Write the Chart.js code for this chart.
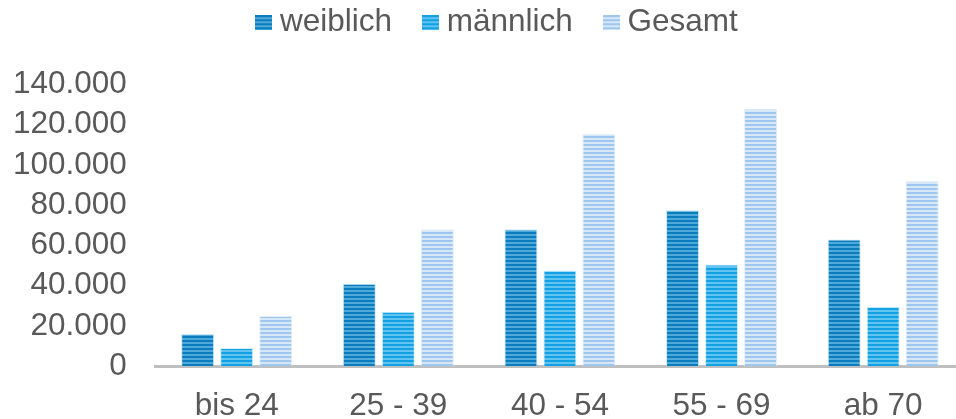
<!DOCTYPE html>
<html>
<head>
<meta charset="utf-8">
<script src="https://cdn.jsdelivr.net/npm/chart.js@4.4.1/dist/chart.umd.min.js"></script>
<style>
  html, body { margin: 0; padding: 0; background: #fff; overflow: hidden; }
  #wrap { width: 964px; height: 419px; }
</style>
</head>
<body>
<div id="wrap"><canvas id="ageChart" width="964" height="419"></canvas></div>
<script>
var categories = ['bis 24', '25 - 39', '40 - 54', '55 - 69', 'ab 70'];
var weiblich = [16000, 41000, 68000, 77500, 63000];
var maennlich = [9000, 27000, 47500, 50500, 29500];
var gesamt = [25000, 68000, 115500, 128000, 92000];
var yTicks = [0, 20000, 40000, 60000, 80000, 100000, 120000, 140000];

// horizontal stripe fill like the original bars
function stripes(base, light) {
    var c = document.createElement('canvas');
    c.width = 4;
    c.height = 4;
    var g = c.getContext('2d');
    g.fillStyle = base;
    g.fillRect(0, 0, 4, 4);
    g.fillStyle = light;
    g.fillRect(0, 2, 4, 2);
    return g.createPattern(c, 'repeat');
}

// small striped square for the legend
function legendSwatch(base, light) {
    var c = document.createElement('canvas');
    c.width = 17;
    c.height = 15;
    var g = c.getContext('2d');
    g.fillStyle = stripes(base, light);
    g.fillRect(0, 0, 17, 15);
    return c;
}

function formatDE(v) {
    return String(v).replace(/\B(?=(\d{3})+(?!\d))/g, '.');
}

var font = { family: '"Liberation Sans", Arial, sans-serif', size: 31.5 };
var textColor = '#595959';

// legend sits a bit right of centre and leaves more room below it
var legendTweak = {
    id: 'legendTweak',
    afterInit: function(chart) {
        var legend = chart.legend;
        if (legend && !legend._tweaked) {
            var fit = legend.fit;
            legend.fit = function() {
                fit.apply(this, arguments);
                this.height += 36;
            };
            legend._tweaked = true;
        }
    },
    afterLayout: function(chart) {
        if (chart.legend) {
            chart.legend.left += 24;
            chart.legend.right += 24;
        }
    }
};

var colors = [
    ['#0b7dbd', '#4fa9db'],
    ['#12a2e3', '#62c3f1'],
    ['#9fc6ec', '#d6e7f8']
];

var ctx = document.getElementById('ageChart').getContext('2d');
var chart = new Chart(ctx, {
    type: 'bar',
    data: {
        labels: categories,
        datasets: [
            {
                label: 'weiblich',
                data: weiblich,
                backgroundColor: stripes(colors[0][0], colors[0][1]),
                borderColor: 'rgba(190,225,245,0.8)',
                borderWidth: 1,
                pointStyle: legendSwatch(colors[0][0], colors[0][1])
            },
            {
                label: 'männlich',
                data: maennlich,
                backgroundColor: stripes(colors[1][0], colors[1][1]),
                borderColor: 'rgba(200,235,250,0.8)',
                borderWidth: 1,
                pointStyle: legendSwatch(colors[1][0], colors[1][1])
            },
            {
                label: 'Gesamt',
                data: gesamt,
                backgroundColor: stripes(colors[2][0], colors[2][1]),
                borderColor: 'rgba(220,235,250,0.8)',
                borderWidth: 1,
                pointStyle: legendSwatch(colors[2][0], colors[2][1])
            }
        ]
    },
    plugins: [legendTweak],
    options: {
        responsive: false,
        animation: false,
        devicePixelRatio: 1,
        categoryPercentage: 0.724,
        barPercentage: 0.846,
        layout: { padding: { left: -11, right: 0, top: -31, bottom: 0 } },
        plugins: {
            tooltip: { enabled: false },
            legend: {
                display: true,
                position: 'top',
                labels: {
                    font: font,
                    color: textColor,
                    usePointStyle: true,
                    pointStyleWidth: 1,
                    boxHeight: 15,
                    padding: 38
                }
            }
        },
        scales: {
            x: {
                grid: { display: false, drawTicks: false },
                border: { display: true, color: '#bfbfbf', width: 3 },
                ticks: { font: font, color: textColor, padding: 21 },
                afterFit: function(scale) { scale.height -= 27; }
            },
            y: {
                min: 0,
                max: 140000,
                afterBuildTicks: function(axis) {
                    axis.ticks = yTicks.map(function(v) { return { value: v }; });
                },
                afterFit: function(scale) { scale.width -= 5; },
                grid: { display: false, drawTicks: false },
                border: { display: false },
                ticks: {
                    font: font,
                    color: textColor,
                    padding: 29,
                    autoSkip: false,
                    callback: function(v) { return formatDE(v); }
                }
            }
        }
    }
});
</script>
</body>
</html>
